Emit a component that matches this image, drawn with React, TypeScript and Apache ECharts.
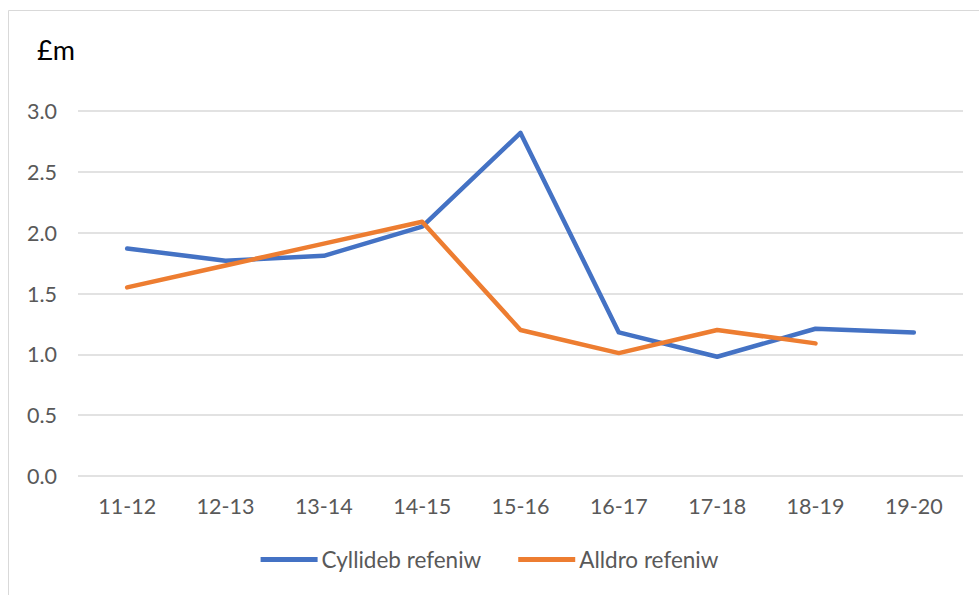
import React, { useEffect, useRef } from "react";
import * as echarts from "echarts";

const categories = ["11-12", "12-13", "13-14", "14-15", "15-16", "16-17", "17-18", "18-19", "19-20"];
const budget = [1.87, 1.77, 1.81, 2.05, 2.82, 1.18, 0.98, 1.21, 1.18];
const outturn = [1.55, 1.73, 1.91, 2.09, 1.2, 1.01, 1.2, 1.09, null];
const seriesNames = ["Cyllideb refeniw", "Alldro refeniw"];
const unitLabel = "£m";

const FONT = "Lato, 'Open Sans', sans-serif";
const TXT = "#595959";

export default function App() {
  const ref = useRef<HTMLDivElement>(null);
  useEffect(() => {
    const chart = echarts.init(ref.current!, null, { renderer: "svg" });
    chart.setOption({
      animation: false,
      backgroundColor: "#ffffff",
      grid: { left: 78, right: 16, top: 111, bottom: 119, containLabel: false },
      graphic: [
        {
          type: "rect",
          shape: { x: 8.5, y: 10.5, width: 1200, height: 1000 },
          style: { fill: "none", stroke: "#d9d9d9", lineWidth: 1 },
          silent: true,
        },
        {
          type: "text",
          left: 37,
          top: 36,
          style: { text: unitLabel, font: `27px ${FONT}`, fill: "#000000" },
        },
      ],
      legend: {
        bottom: 19,
        left: "center",
        itemWidth: 57,
        itemHeight: 14,
        itemGap: 37,
        icon: "path://M0,0 L57,0 L57,5 L0,5 Z",
        textStyle: { color: TXT, fontSize: 22.5, fontFamily: FONT, padding: [0, 0, 0, -1] },
        data: seriesNames,
      },
      xAxis: {
        type: "category",
        data: categories,
        boundaryGap: true,
        axisLine: { show: false },
        axisTick: { show: false },
        axisLabel: { color: TXT, fontSize: 21.5, fontFamily: FONT, margin: 19 },
      },
      yAxis: {
        type: "value",
        min: 0,
        max: 3,
        interval: 0.5,
        axisLine: { show: false },
        axisTick: { show: false },
        axisLabel: {
          color: TXT,
          fontSize: 21.5,
          fontFamily: FONT,
          margin: 21,
          formatter: (v: number) => v.toFixed(1),
        },
        splitLine: { lineStyle: { color: "#d9d9d9", width: 1.5 } },
      },
      series: [
        {
          name: seriesNames[0],
          type: "line",
          data: budget,
          symbol: "none",
          lineStyle: { color: "#4472c4", width: 4.5, cap: "round", join: "round" },
          itemStyle: { color: "#4472c4" },
        },
        {
          name: seriesNames[1],
          type: "line",
          data: outturn,
          symbol: "none",
          lineStyle: { color: "#ed7d31", width: 4.5, cap: "round", join: "round" },
          itemStyle: { color: "#ed7d31" },
        },
      ],
    });
    return () => chart.dispose();
  }, []);
  return (
    <div
      ref={ref}
      style={{ position: "fixed", left: 0, top: 0, width: 979, height: 595, background: "#fff" }}
    />
  );
}
